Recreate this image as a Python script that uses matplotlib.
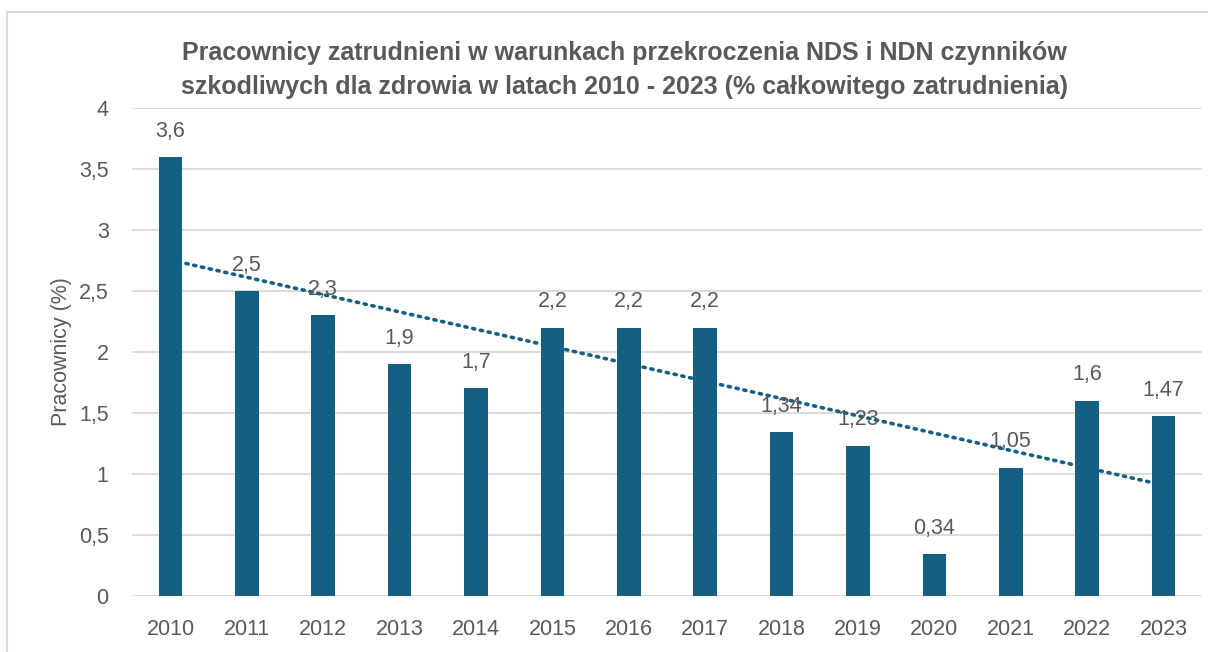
import matplotlib.pyplot as plt
import numpy as np
from matplotlib.patches import Rectangle

# dane
lata = ['2010', '2011', '2012', '2013', '2014', '2015', '2016',
        '2017', '2018', '2019', '2020', '2021', '2022', '2023']
pracownicy = [3.6, 2.5, 2.3, 1.9, 1.7, 2.2, 2.2, 2.2, 1.34, 1.23, 0.34, 1.05, 1.6, 1.47]
y_ticks = [0, 0.5, 1, 1.5, 2, 2.5, 3, 3.5, 4]

kolor = '#155F82'
szary = '#595959'

plt.rcParams['font.family'] = ['Liberation Sans', 'DejaVu Sans']

fig = plt.figure(figsize=(12.08, 6.52), dpi=100)
ax = fig.add_axes([0.1095, 0.0865, 0.8853, 0.7475])

x = np.arange(len(lata))
ax.bar(x, pracownicy, width=0.31, color=kolor, zorder=3)

# etykiety danych
for xi, v in zip(x, pracownicy):
    ax.annotate(f'{v:g}'.replace('.', ','), (xi, v), xytext=(0, 11),
                textcoords='offset points', ha='center', va='bottom',
                fontsize=15.5, color=szary, zorder=5)

# linia trendu (liniowa)
a, b = np.polyfit(x, pracownicy, 1)
ax.plot(x, a * x + b, linestyle=(0, (0.6, 1.6)), color=kolor,
        linewidth=2.6, dash_capstyle='round', zorder=4)

ax.set_xlim(-0.5, len(lata) - 0.5)
ax.set_ylim(0, 4)
ax.set_xticks(x)
ax.set_xticklabels(lata)
ax.set_yticks(y_ticks)
ax.set_yticklabels([f'{t:g}'.replace('.', ',') for t in y_ticks])
ax.tick_params(axis='both', length=0, labelsize=15.5, colors=szary)
ax.tick_params(axis='x', pad=17)
ax.tick_params(axis='y', pad=17)
ax.grid(axis='y', color='#d9d9d9', linewidth=1.3, zorder=0)
for s in ax.spines.values():
    s.set_visible(False)

ax.set_ylabel('Pracownicy (%)', fontsize=15.5, color=szary, labelpad=5)

fig.text(0.517, 0.893,
         'Pracownicy zatrudnieni w warunkach przekroczenia NDS i NDN czynników\n'
         'szkodliwych dla zdrowia w latach 2010 - 2023 (% całkowitego zatrudnienia)',
         ha='center', va='center', fontsize=18, fontweight='bold',
         color=szary, linespacing=1.5)

# ramka wykresu
fig.patches.append(Rectangle((7.5 / 1208, -0.1), 1.2, 1.1 - 12 / 652,
                             transform=fig.transFigure, fill=False,
                             edgecolor='#d9d9d9', linewidth=1.5))

fig.savefig('out.png', dpi=100)
